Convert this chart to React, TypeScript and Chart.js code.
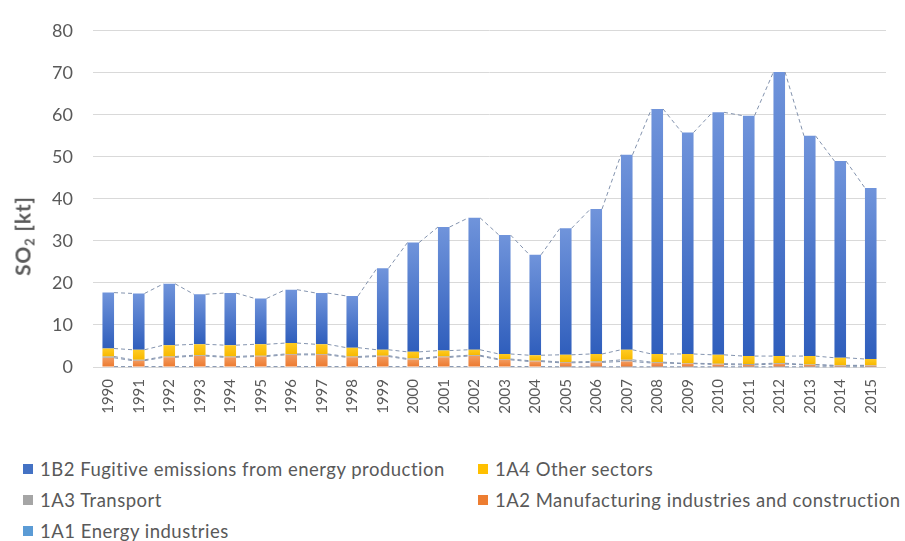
import React, { useEffect, useRef } from "react";
import { Chart, registerables } from "chart.js";

Chart.register(...registerables);

const years = [
  "1990", "1991", "1992", "1993", "1994", "1995", "1996", "1997", "1998", "1999",
  "2000", "2001", "2002", "2003", "2004", "2005", "2006", "2007", "2008", "2009",
  "2010", "2011", "2012", "2013", "2014", "2015",
];

const energyIndustries1A1 = [
  0.1, 0.1, 0.1, 0.1, 0.1, 0.1, 0.1, 0.1, 0.1, 0.1,
  0.1, 0.1, 0.1, 0.1, 0.1, 0.05, 0.05, 0.05, 0.05, 0.05,
  0.05, 0.05, 0.05, 0.05, 0.05, 0.05,
];
const manufacturing1A2 = [
  2.1, 1.4, 2.2, 2.5, 2.2, 2.4, 2.8, 2.8, 2.2, 2.4,
  1.7, 2.2, 2.5, 1.6, 1.2, 0.95, 1.05, 1.25, 0.9, 0.75,
  0.55, 0.45, 0.65, 0.45, 0.25, 0.25,
];
const transport1A3 = [
  0.3, 0.2, 0.2, 0.2, 0.2, 0.2, 0.2, 0.2, 0.2, 0.2,
  0.2, 0.2, 0.2, 0.2, 0.2, 0.2, 0.2, 0.4, 0.2, 0.1,
  0.2, 0.2, 0.2, 0.1, 0.1, 0.1,
];
const otherSectors1A4 = [
  1.9, 2.4, 2.7, 2.6, 2.7, 2.7, 2.6, 2.3, 2.1, 1.4,
  1.6, 1.4, 1.3, 1.2, 1.3, 1.7, 1.8, 2.4, 1.95, 2.2,
  2.1, 1.9, 1.7, 2.0, 1.8, 1.5,
];
const fugitive1B2 = [
  13.3, 13.4, 14.6, 11.9, 12.4, 10.9, 12.7, 12.2, 12.3, 19.4,
  26.0, 29.4, 31.4, 28.3, 23.9, 30.1, 34.5, 46.4, 58.3, 52.7,
  57.7, 57.2, 67.6, 52.4, 46.8, 40.7,
];

const seriesLabels = [
  "1A1 Energy industries",
  "1A2 Manufacturing industries and construction",
  "1A3 Transport",
  "1A4 Other sectors",
  "1B2 Fugitive emissions from energy production",
];
const seriesColors = ["#5B9BD5", "#ED7D31", "#A5A5A5", "#FFC000", "#4472C4"];
const gradientTops = ["#6FA8DC", "#F39B5E", "#A5A5A5", "#FFCB22", "#7094DB"];
const gradientBottoms = ["#4F8FCB", "#EC7A30", "#A5A5A5", "#F7B800", "#2F5EBC"];

const yMin = 0;
const yMax = 80;
const yStep = 10;

const FONT = "Lato, 'Open Sans', sans-serif";
const TEXT = "#595959";

const W = 905;
const CANVAS_H = 430;

const gradientFill = (top: string, bottom: string) => (ctx: any) => {
  if (ctx.type !== "data") return bottom;
  const chart = ctx.chart;
  const ys = chart.scales && chart.scales.y;
  if (!ys || !chart.chartArea) return bottom;
  let base = 0;
  for (let d = 0; d < ctx.datasetIndex; d++) {
    base += Number(chart.data.datasets[d].data[ctx.dataIndex]) || 0;
  }
  const topV = base + (Number(chart.data.datasets[ctx.datasetIndex].data[ctx.dataIndex]) || 0);
  const y0 = ys.getPixelForValue(base);
  const y1 = ys.getPixelForValue(topV);
  if (!isFinite(y0) || !isFinite(y1) || Math.abs(y0 - y1) < 0.5) return bottom;
  const g = chart.ctx.createLinearGradient(0, y1, 0, y0);
  g.addColorStop(0, top);
  g.addColorStop(1, bottom);
  return g;
};

const seriesLinesPlugin = {
  id: "seriesLines",
  afterDatasetsDraw(chart: any) {
    const ctx = chart.ctx;
    ctx.save();
    ctx.strokeStyle = "#8393AE";
    ctx.lineWidth = 1;
    ctx.setLineDash([4, 3]);
    chart.data.datasets.forEach((_ds: any, di: number) => {
      const meta = chart.getDatasetMeta(di);
      for (let i = 0; i < meta.data.length - 1; i++) {
        const a: any = meta.data[i];
        const b: any = meta.data[i + 1];
        ctx.beginPath();
        ctx.moveTo(a.x + a.width / 2, a.y);
        ctx.lineTo(b.x - b.width / 2, b.y);
        ctx.stroke();
      }
    });
    ctx.restore();
  },
};

export default function App() {
  const ref = useRef<HTMLCanvasElement | null>(null);

  useEffect(() => {
    if (!ref.current) return;
    const seriesData = [energyIndustries1A1, manufacturing1A2, transport1A3, otherSectors1A4, fugitive1B2];
    const chart = new Chart(ref.current, {
      type: "bar",
      data: {
        labels: years,
        datasets: seriesData.map((d, i) => ({
          label: seriesLabels[i],
          data: d,
          backgroundColor: gradientFill(gradientTops[i], gradientBottoms[i]),
          borderWidth: 0,
          barPercentage: 0.38,
          categoryPercentage: 1,
        })),
      },
      options: {
        responsive: false,
        animation: false,
        layout: { padding: { top: 21, right: 19, left: 0, bottom: 0 } },
        plugins: {
          legend: { display: false },
          tooltip: { enabled: false },
          title: { display: false },
        },
        scales: {
          x: {
            stacked: true,
            grid: { display: false, drawTicks: false },
            border: { display: false },
            ticks: {
              color: TEXT,
              font: { family: FONT, size: 15 },
              minRotation: 90,
              maxRotation: 90,
              padding: 12,
              autoSkip: false,
            },
            afterFit: (s: any) => {
              s.height = CANVAS_H - 367;
            },
          },
          y: {
            stacked: true,
            min: yMin,
            max: yMax,
            grid: { color: "#D9D9D9", lineWidth: 1, drawTicks: false },
            border: { display: false },
            ticks: {
              stepSize: yStep,
              color: TEXT,
              font: { family: FONT, size: 18 },
              padding: 20,
            },
            afterFit: (s: any) => {
              s.width = 93;
            },
          },
        },
      },
      plugins: [seriesLinesPlugin],
    });
    return () => chart.destroy();
  }, []);

  const legendOrder = [4, 3, 2, 1, 0];

  return (
    <div style={{ position: "absolute", left: 0, top: 0, width: W, height: 541, background: "#fff", fontFamily: FONT }}>
      <canvas ref={ref} width={W} height={CANVAS_H} style={{ position: "absolute", left: 0, top: 0 }} />
      <div
        style={{
          position: "absolute",
          left: 24,
          top: 236,
          transform: "translate(-50%, -50%) rotate(-90deg)",
          whiteSpace: "nowrap",
          fontWeight: 700,
          fontSize: 21,
          letterSpacing: 0.8,
          color: TEXT,
          lineHeight: 1,
        }}
      >
        SO<sub style={{ fontSize: 13, verticalAlign: "-4px" }}>2</sub> [kt]
      </div>
      {legendOrder.map((si, k) => {
        const col = k % 2;
        const row = Math.floor(k / 2);
        return (
          <div
            key={si}
            style={{
              position: "absolute",
              left: col === 0 ? 23 : 478,
              top: 469 + row * 31 - 11,
              height: 22,
              display: "flex",
              alignItems: "center",
              whiteSpace: "nowrap",
              fontSize: 18.5,
              letterSpacing: 0.5,
              color: TEXT,
            }}
          >
            <span style={{ display: "inline-block", width: 10, height: 10, background: seriesColors[si], marginRight: 7 }} />
            <span>{seriesLabels[si]}</span>
          </div>
        );
      })}
    </div>
  );
}
